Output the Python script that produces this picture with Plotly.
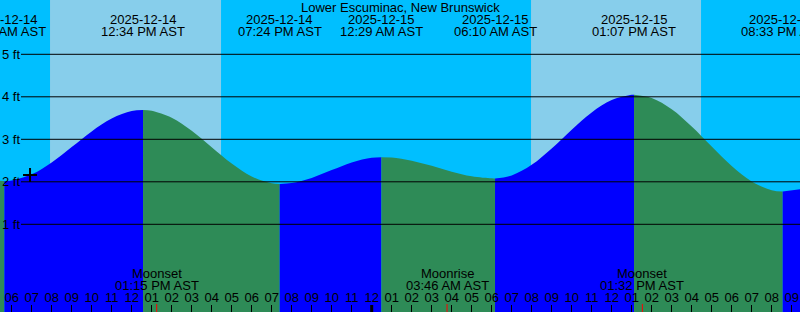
import plotly.graph_objects as go
import pandas as pd

# ---------------- data ----------------
station = "Lower Escuminac, New Brunswick"

extreme_times = ["2025-12-14 05:38", "2025-12-14 12:34", "2025-12-14 19:24",
                 "2025-12-15 00:29", "2025-12-15 06:10", "2025-12-15 13:07",
                 "2025-12-15 20:33"]
extreme_heights = [2.02, 3.69, 1.95, 2.58, 2.08, 4.05, 1.77]

# hourly readings of the tide curve (hours after 2025-12-14 00:00)
curve_hours = [5.4, 6, 7, 8, 9, 10, 11, 12, 13, 14, 15, 16, 17, 18, 19, 20,
               21, 22, 23, 24, 25, 26, 27, 28, 29, 30, 31, 32, 33, 34, 35, 36,
               37, 38, 39, 40, 41, 42, 43, 44, 45.5]
curve_heights = [2.025, 2.032, 2.176, 2.457, 2.818, 3.186, 3.488, 3.663,
                 3.673, 3.508, 3.201, 2.813, 2.428, 2.125, 1.965,
                 1.971, 2.092, 2.276, 2.457, 2.566,
                 2.570, 2.497, 2.375, 2.239, 2.130, 2.081,
                 2.149, 2.399, 2.783, 3.224, 3.633, 3.925, 4.049,
                 3.972, 3.708, 3.303, 2.830, 2.371, 2.007, 1.800, 1.83]

sunrise_times = ["2025-12-14 07:55", "2025-12-15 07:58"]
sunset_times = ["2025-12-14 16:28", "2025-12-15 16:28"]

moon_events = ["Moonset", "Moonrise", "Moonset"]
moon_times = ["2025-12-14 13:15", "2025-12-15 03:46", "2025-12-15 13:32"]

midnight_times = ["2025-12-15 00:00"]

now_time = "2025-12-14 06:55"
now_height = 2.16

height_levels = [1, 2, 3, 4, 5]
height_labels = [f"{v} ft" for v in height_levels]

x_range = ["2025-12-14 05:24:54", "2025-12-15 21:24:54"]
y_range = [-1.0635, 6.2776]

# ---------------- build ----------------
W, H = 800, 312
FONT = "Liberation Sans, Arial, sans-serif"
BASE = pd.Timestamp("2025-12-14 00:00")
RISE, FALL = "#0000FF", "#2E8B57"
DAY, NIGHT = "#87CEEB", "#00BFFF"

ext_ts = list(pd.to_datetime(extreme_times))
cur_ts = list(BASE + pd.to_timedelta(curve_hours, unit="h"))
points = sorted(list(zip(ext_ts, extreme_heights)) + list(zip(cur_ts, curve_heights)))
bounds = [(cur_ts[0], curve_heights[0])] + list(zip(ext_ts, extreme_heights)) + \
         [(cur_ts[-1], curve_heights[-1])]

fig = go.Figure()
for (t0, h0), (t1, h1) in zip(bounds[:-1], bounds[1:]):
    seg = [(t, h) for t, h in points if t0 <= t <= t1]
    xs = [t for t, _ in seg]
    ys = [h for _, h in seg]
    fig.add_trace(go.Scatter(x=xs, y=[y_range[0]] * len(xs), mode="lines",
                             line=dict(width=0), hoverinfo="skip", showlegend=False))
    fig.add_trace(go.Scatter(x=xs, y=ys, mode="lines", fill="tonexty",
                             fillcolor=RISE if h1 > h0 else FALL,
                             line=dict(width=0, shape="spline", color=RISE if h1 > h0 else FALL),
                             hoverinfo="skip", showlegend=False))

fig.add_trace(go.Scatter(x=[now_time], y=[now_height], mode="markers",
                         marker=dict(symbol="cross-thin", size=10,
                                     line=dict(color="black", width=2)),
                         showlegend=False, hoverinfo="skip"))

shapes = []
for sr, ss in zip(sunrise_times, sunset_times):
    shapes.append(dict(type="rect", xref="x", yref="paper", x0=sr, x1=ss, y0=0, y1=1,
                       fillcolor=DAY, line=dict(width=0), layer="below"))
for v in height_levels:
    shapes.append(dict(type="line", xref="paper", yref="y", x0=21 / W, x1=1, y0=v, y1=v,
                       line=dict(color="black", width=1), layer="above"))
for t in midnight_times:
    shapes.append(dict(type="line", xref="x", yref="paper", x0=t, x1=t, y0=0, y1=7 / H,
                       line=dict(color="black", width=3), layer="above"))
for t in moon_times:
    shapes.append(dict(type="line", xref="x", yref="paper", x0=t, x1=t, y0=0, y1=8 / H,
                       line=dict(color="red", width=1), layer="above"))

def ypx(px):
    return 1 - px / H

ann = []
txtfont = dict(family=FONT, size=13, color="black")
ann.append(dict(text=station, xref="paper", yref="paper", x=0.5, y=ypx(7),
                showarrow=False, font=txtfont, yanchor="middle"))
for t in ext_ts:
    ann.append(dict(text=t.strftime("%Y-%m-%d"), xref="x", yref="paper", x=t, y=ypx(19.5),
                    showarrow=False, font=txtfont, yanchor="middle"))
    ann.append(dict(text=t.strftime("%I:%M %p AST"), xref="x", yref="paper", x=t, y=ypx(31.5),
                    showarrow=False, font=txtfont, yanchor="middle"))
for name, t in zip(moon_events, pd.to_datetime(moon_times)):
    ann.append(dict(text=name, xref="x", yref="paper", x=t, y=ypx(273),
                    showarrow=False, font=txtfont, yanchor="middle"))
    ann.append(dict(text=t.strftime("%I:%M %p AST"), xref="x", yref="paper", x=t, y=ypx(285),
                    showarrow=False, font=txtfont, yanchor="middle"))
for v, lab in zip(height_levels, height_labels):
    ann.append(dict(text=lab, xref="paper", yref="y", x=0, y=v, xanchor="left",
                    yanchor="middle", showarrow=False, font=txtfont))

fig.update_layout(
    width=W, height=H, margin=dict(l=0, r=0, t=0, b=0),
    paper_bgcolor=NIGHT, plot_bgcolor=NIGHT,
    shapes=shapes, annotations=ann, showlegend=False,
    xaxis=dict(type="date", range=x_range, tickformat="%I", dtick=3600000,
               tick0="2025-12-14 00:00", ticks="inside", ticklen=7, tickcolor="black",
               tickwidth=1, ticklabelposition="inside", ticklabeloverflow="allow",
               tickfont=dict(family=FONT, size=13, color="black"),
               showgrid=False, zeroline=False, showline=False, fixedrange=True),
    yaxis=dict(range=y_range, showgrid=False, zeroline=False, showticklabels=False,
               showline=False, fixedrange=True),
)

fig.write_html("out.html", config={"displayModeBar": False})
